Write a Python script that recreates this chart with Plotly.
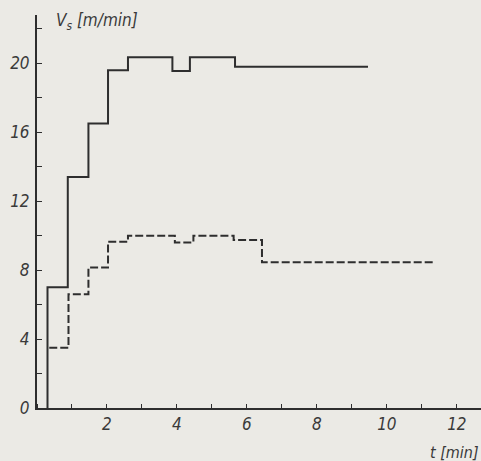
import plotly.graph_objects as go

# Solid curve (step) : step start times [min] and speed values [m/min]
solid_t = [0.3, 0.3, 0.88, 1.47, 2.03, 2.6, 3.87, 4.37, 5.66, 9.46]
solid_v = [0.0, 7.0, 13.4, 16.5, 19.6, 20.35, 19.55, 20.35, 19.8, 19.8]

# Dashed curve (step)
dash_t = [0.35, 0.9, 1.47, 2.03, 2.6, 3.94, 4.47, 5.62, 6.43, 11.37]
dash_v = [3.5, 6.6, 8.15, 9.65, 10.0, 9.6, 10.0, 9.75, 8.45, 8.45]

x_ticks = [2, 4, 6, 8, 10, 12]
y_ticks = [0, 4, 8, 12, 16, 20]

ink = "#2e2e2e"
bg = "#ebeae5"
font_family = "Liberation Sans Narrow, DejaVu Sans Condensed, sans-serif"

fig = go.Figure()
fig.add_trace(go.Scatter(x=solid_t, y=solid_v, mode="lines", line_shape="hv",
                         line=dict(color=ink, width=2), showlegend=False))
fig.add_trace(go.Scatter(x=dash_t, y=dash_v, mode="lines", line_shape="hv",
                         line=dict(color=ink, width=2, dash="8px,3px"), showlegend=False))

fig.update_layout(
    width=481, height=461,
    margin=dict(l=37, r=0, t=15, b=53),
    paper_bgcolor=bg, plot_bgcolor=bg,
    font=dict(family=font_family, size=17, color="#3a3a3a", style="italic"),
    xaxis=dict(range=[0, 12.69], showgrid=False, zeroline=False,
               showline=True, linecolor=ink, linewidth=2,
               tickmode="array", tickvals=x_ticks, ticktext=[str(v) for v in x_ticks],
               ticks="", ticklabelstandoff=0,
               minor=dict(ticks="inside", dtick=1, tick0=0, ticklen=4, tickcolor=ink, tickwidth=1),
               fixedrange=True),
    yaxis=dict(range=[0, 22.8], showgrid=False, zeroline=False,
               showline=True, linecolor=ink, linewidth=2,
               tickmode="array", tickvals=y_ticks, ticktext=[str(v) for v in y_ticks],
               ticks="", ticklabelstandoff=2,
               minor=dict(ticks="inside", dtick=2, tick0=0, ticklen=5, tickcolor=ink, tickwidth=1),
               fixedrange=True),
    annotations=[
        dict(x=0.5, y=22.4, xref="x", yref="y", xanchor="left", yanchor="middle",
             text="V<sub>s</sub> [m/min]", showarrow=False,
             font=dict(size=17, family=font_family, color="#3a3a3a", style="italic")),
        dict(x=1.0, y=-0.112, xref="paper", yref="paper", xanchor="right", yanchor="middle",
             text="t [min]", showarrow=False,
             font=dict(size=16, family=font_family, color="#3a3a3a", style="italic")),
    ],
)

fig.write_html(
    "out.html",
    config={"displayModeBar": False},
    post_script="document.body.style.margin='0';document.body.style.background='%s';" % bg,
)
